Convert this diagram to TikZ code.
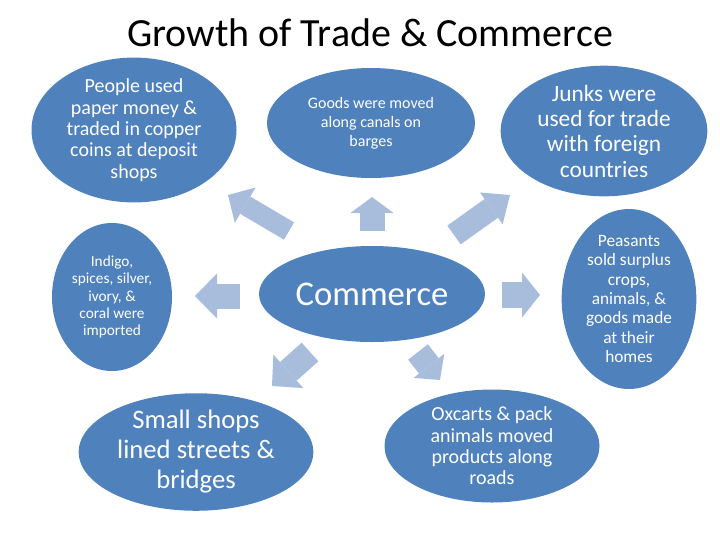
\documentclass[tikz,border=0pt]{standalone}
\usepackage{fontspec}
\setmainfont{Carlito}
\usepackage{xcolor}
\usepackage{tikz}
\usetikzlibrary{shapes, arrows.meta, positioning}

\definecolor{bubbleblue}{HTML}{4F81BD}
\definecolor{arrowblue}{HTML}{A8BCDC}

\begin{document}
\begin{tikzpicture}[x=0.75pt, y=-0.75pt,
            bubble/.style={ellipse, fill=bubbleblue, text=white, inner sep=0pt, align=center},
            blk/.style={draw=arrowblue, line width=18.75pt, -{Triangle[width=33.75pt, length=16.5pt, line width=0pt]}}]
            \useasboundingbox (0,0) rectangle (720,540);

            \node[font=\fontsize{30}{34}\selectfont] (title) at (370,33) {Growth of Trade \& Commerce};

            \node[bubble, minimum width=169.5pt, minimum height=72pt, font=\fontsize{26}{30}\selectfont] (commerce) at (372,294) {Commerce};

            \node[bubble, minimum width=153.75pt, minimum height=93pt, font=\fontsize{15}{16}\selectfont] (money) at (134,130)
                {People used\\paper money \&\\traded in copper\\coins at deposit\\shops};
            \node[bubble, minimum width=156pt, minimum height=82.5pt, font=\fontsize{12}{14.25}\selectfont] (canals) at (371,123)
                {Goods were moved\\along canals on\\barges};
            \node[bubble, minimum width=155pt, minimum height=91.5pt, font=\fontsize{17.5}{19}\selectfont] (junks) at (604,131)
                {Junks were\\used for trade\\with foreign\\countries};
            \node[bubble, minimum width=90pt, minimum height=111pt, font=\fontsize{11.5}{13}\selectfont] (imports) at (112,297)
                {Indigo,\\spices, silver,\\ivory, \&\\coral were\\imported};
            \node[bubble, minimum width=101pt, minimum height=124.5pt, font=\fontsize{13}{14.5}\selectfont] (peasants) at (629,299)
                {Peasants\\sold surplus\\crops,\\animals, \&\\goods made\\at their\\homes};
            \node[bubble, minimum width=176pt, minimum height=85pt, font=\fontsize{20}{22.5}\selectfont] (shops) at (196,452)
                {Small shops\\lined streets \&\\bridges};
            \node[bubble, minimum width=161.25pt, minimum height=84.75pt, font=\fontsize{15}{16}\selectfont] (oxcarts) at (492,446)
                {Oxcarts \& pack\\animals moved\\products along\\roads};

            % tails and tips of the block arrows
            \coordinate (up-s) at (372,231);  \coordinate (up-e) at (372,197);
            \coordinate (ul-s) at (289,231);  \coordinate (ul-e) at (228,195);
            \coordinate (ur-s) at (454,235);  \coordinate (ur-e) at (510,195);
            \coordinate (lt-s) at (240,296);  \coordinate (lt-e) at (195,296);
            \coordinate (rt-s) at (502,295);  \coordinate (rt-e) at (540,295);
            \coordinate (dl-s) at (310,352);  \coordinate (dl-e) at (272,386);
            \coordinate (dr-s) at (418,352);  \coordinate (dr-e) at (440,380);

            \draw[blk, -{Triangle[width=32.25pt, length=12pt, line width=0pt]}] (up-s) -- (up-e);
            \draw[blk, line width=15pt, -{Triangle[width=30.75pt, length=15pt, line width=0pt]}] (ul-s) -- (ul-e);
            \draw[blk, line width=17.25pt, -{Triangle[width=29.25pt, length=17.25pt, line width=0pt]}] (ur-s) -- (ur-e);
            \draw[blk] (lt-s) -- (lt-e);
            \draw[blk, line width=19.5pt, -{Triangle[width=33.75pt, length=13.5pt, line width=0pt]}] (rt-s) -- (rt-e);
            \draw[blk] (dl-s) -- (dl-e);
            \draw[blk, -{Triangle[width=29.25pt, length=13.5pt, line width=0pt]}] (dr-s) -- (dr-e);
        \end{tikzpicture}
\end{document}
